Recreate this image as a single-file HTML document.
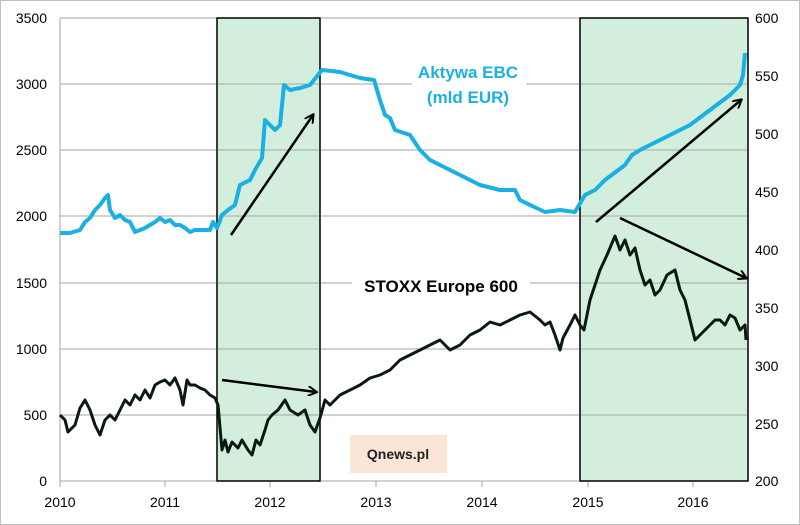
<!DOCTYPE html>
<html><head><meta charset="utf-8"><style>body{margin:0;background:#fff}svg{display:block}</style></head><body>
<svg width="800" height="525" viewBox="0 0 800 525" font-family="Liberation Sans, sans-serif">
<rect x="0.5" y="0.5" width="799" height="524" fill="#fff" stroke="#bfbfbf"/>
<rect x="217" y="18" width="103" height="463" fill="#d3eedd" stroke="#000" stroke-width="1.3"/>
<rect x="580" y="18" width="168" height="463" fill="#d3eedd" stroke="#000" stroke-width="1.3"/>
<g stroke="#a6a6a6" stroke-width="1">
<line x1="60" y1="18" x2="748" y2="18"/><line x1="60" y1="84" x2="748" y2="84"/><line x1="60" y1="150" x2="748" y2="150"/><line x1="60" y1="216" x2="748" y2="216"/><line x1="60" y1="283" x2="748" y2="283"/><line x1="60" y1="349" x2="748" y2="349"/><line x1="60" y1="415" x2="748" y2="415"/>
<line x1="60" y1="18" x2="60" y2="481"/><line x1="748" y1="18" x2="748" y2="481"/>
<line x1="60" y1="481" x2="748" y2="481"/>
<line x1="60" y1="481" x2="60" y2="487"/><line x1="165" y1="481" x2="165" y2="487"/><line x1="270" y1="481" x2="270" y2="487"/><line x1="376" y1="481" x2="376" y2="487"/><line x1="482" y1="481" x2="482" y2="487"/><line x1="588" y1="481" x2="588" y2="487"/><line x1="693" y1="481" x2="693" y2="487"/>
</g>
<rect x="217" y="18" width="103" height="463" fill="none" stroke="#000" stroke-width="1.3"/>
<rect x="580" y="18" width="168" height="463" fill="none" stroke="#000" stroke-width="1.3"/>
<g font-size="14" fill="#000" text-anchor="end">
<text x="47" y="23">3500</text><text x="47" y="89">3000</text><text x="47" y="155">2500</text><text x="47" y="221">2000</text><text x="47" y="288">1500</text><text x="47" y="354">1000</text><text x="47" y="420">500</text><text x="47" y="486">0</text>
</g>
<g font-size="14" fill="#000">
<text x="755" y="23">600</text><text x="755" y="81">550</text><text x="755" y="139">500</text><text x="755" y="197">450</text><text x="755" y="255">400</text><text x="755" y="313">350</text><text x="755" y="371">300</text><text x="755" y="429">250</text><text x="755" y="486">200</text>
</g>
<g font-size="14" fill="#000" text-anchor="middle">
<text x="60" y="507">2010</text><text x="165" y="507">2011</text><text x="270" y="507">2012</text><text x="376" y="507">2013</text><text x="482" y="507">2014</text><text x="588" y="507">2015</text><text x="693" y="507">2016</text>
</g>
<polyline fill="none" stroke="#1ab0e3" stroke-width="4" stroke-linejoin="round" points="60,233 70,233 80,230 85,222 90,218 95,210 100,205 105,198 108,195 110,210 115,218 120,215 125,220 130,222 135,232 140,230 145,228 150,225 155,222 160,218 165,222 170,220 175,225 180,225 185,228 190,232 195,230 205,230 210,230 213,222 217,228 222,215 228,210 235,205 240,185 250,180 255,170 262,158 265,120 270,125 275,130 280,125 284,85 290,90 300,88 310,85 318,75 322,70 340,72 360,78 374,80 380,100 385,115 390,118 395,130 410,135 420,150 430,160 440,165 460,175 480,185 500,190 515,190 520,200 530,205 545,212 560,210 575,212 582,200 585,195 595,190 605,180 625,165 632,155 640,150 650,145 670,135 690,125 710,110 730,95 740,85 743,75 745,53"/>
<polyline fill="none" stroke="#0a1a10" stroke-width="3" stroke-linejoin="round" points="60,415 65,420 68,432 75,425 80,408 85,400 90,410 95,425 100,435 105,420 110,415 115,420 120,410 125,400 130,405 135,395 140,400 145,390 150,398 155,385 160,382 165,380 170,385 175,378 180,390 183,405 187,380 190,385 195,385 200,388 205,390 210,395 215,398 218,405 222,450 225,440 228,452 232,442 238,448 242,440 248,450 252,455 256,440 260,445 265,430 268,420 272,415 278,410 285,400 290,410 298,415 305,410 310,425 315,432 320,418 325,400 330,405 340,395 350,390 360,385 370,378 380,375 390,370 400,360 410,355 420,350 430,345 440,340 450,350 460,345 470,335 480,330 490,322 500,325 510,320 520,315 530,312 540,320 545,325 550,322 555,335 560,350 563,338 570,325 575,315 580,325 584,330 590,300 595,285 600,270 607,255 615,236 620,250 625,240 630,255 635,248 640,270 645,285 650,280 655,295 660,290 667,275 675,270 680,290 685,300 690,320 695,340 700,335 705,330 710,325 715,320 720,320 725,325 730,315 735,318 740,330 745,325 746,340"/>
<defs><marker id="a" markerWidth="10" markerHeight="10" refX="8" refY="5" orient="auto" markerUnits="userSpaceOnUse"><path d="M0,0 L9,5 L0,10" fill="none" stroke="#000" stroke-width="2"/></marker></defs>
<g stroke="#000" stroke-width="2.5" marker-end="url(#a)">
<line x1="231" y1="235" x2="313" y2="115"/>
<line x1="222" y1="380" x2="316" y2="392"/>
<line x1="596" y1="222" x2="741" y2="100"/>
<line x1="620" y1="218" x2="746" y2="278"/>
</g>
<rect x="412" y="60" width="114" height="50" fill="#fff"/>
<text x="468" y="78" font-size="17" font-weight="bold" fill="#1ab0e3" text-anchor="middle">Aktywa EBC</text>
<text x="468" y="103" font-size="17" font-weight="bold" fill="#1ab0e3" text-anchor="middle">(mld EUR)</text>
<rect x="352" y="272" width="178" height="26" fill="#fff"/>
<text x="441" y="292" font-size="17" font-weight="bold" fill="#000" text-anchor="middle">STOXX Europe 600</text>
<rect x="350" y="435" width="97" height="38" fill="#fbe5d6"/>
<text x="398" y="459" font-size="14" font-weight="bold" fill="#222" text-anchor="middle">Qnews.pl</text>
</svg>
</body></html>
